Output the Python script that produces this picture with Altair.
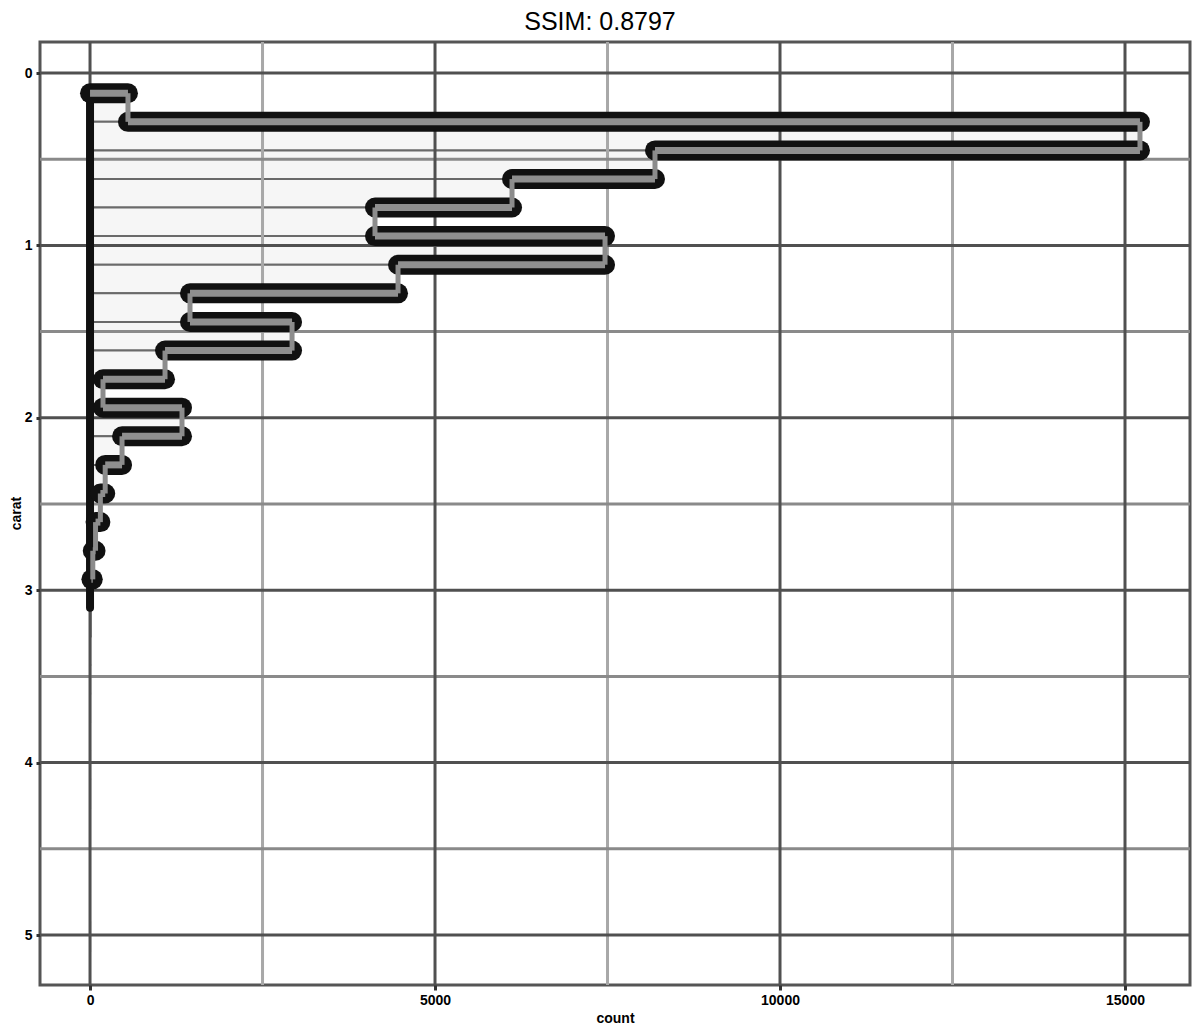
import altair as alt
import pandas as pd

title_text = "SSIM: 0.8797"
x_title = "count"
y_title = "carat"

bin_edges = [0.117, 0.283, 0.449, 0.615, 0.780, 0.946, 1.112, 1.278, 1.444, 1.610,
             1.776, 1.941, 2.107, 2.273, 2.439, 2.605, 2.771, 2.937, 3.102, 3.268,
             3.434, 3.600, 3.766, 3.932, 4.097, 4.263, 4.429, 4.595, 4.761, 4.927, 5.093]
counts = [550, 15217, 8188, 6116, 4130, 7464, 4464, 1449, 2928, 1087,
          188, 1333, 464, 220, 150, 80, 40, 20, 10, 3,
          2, 1, 0, 1, 1, 0, 0, 0, 0, 1]

x_ticks = [0, 5000, 10000, 15000]
x_minor = [2500, 7500, 12500]
y_ticks = [0, 1, 2, 3, 4, 5]
y_minor = [0.5, 1.5, 2.5, 3.5, 4.5]

n = len(counts)
bars = pd.DataFrame({"y": bin_edges[:-1], "y2": bin_edges[1:], "x": [0] * n, "x2": counts})

h_rows = []
for i, e in enumerate(bin_edges):
    a = counts[i - 1] if i > 0 else 0
    b = counts[i] if i < n else 0
    if max(a, b) >= 40:
        h_rows.append({"y": e, "x": min(a, b), "x2": max(a, b)})
hdf = pd.DataFrame(h_rows)
vdf = pd.DataFrame([{"x": c, "y": s, "y2": t}
                    for c, s, t in zip(counts, bin_edges[:-1], bin_edges[1:]) if c >= 40])
tail_end = max(e for i, e in enumerate(bin_edges[1:]) if counts[i] >= 20)
edge_df = pd.DataFrame([{"x": 0, "y": bin_edges[0], "y2": tail_end}])
xg_major = pd.DataFrame({"x": x_ticks})
xg_minor = pd.DataFrame({"x": x_minor})
yg_major = pd.DataFrame({"y": y_ticks})
yg_minor = pd.DataFrame({"y": y_minor})

xs = alt.Scale(domain=[-725, 15942], nice=False, zero=False)
ys = alt.Scale(domain=[-0.18, 5.29], reverse=True, nice=False, zero=False)

base_font = "Liberation Sans"

x_axis = alt.Axis(values=x_ticks, format="d", grid=False, domain=False,
                  labelFontSize=14, labelFontWeight="bold", labelColor="#000",
                  tickColor="#333", tickWidth=3, tickSize=5, labelPadding=3,
                  titleFontSize=14, titleFontWeight="bold", titleColor="#000",
                  titlePadding=4, labelFont=base_font, titleFont=base_font)
y_axis = alt.Axis(values=y_ticks, format="d", grid=False, domain=False,
                  labelFontSize=14, labelFontWeight="bold", labelColor="#000",
                  tickColor="#333", tickWidth=3, tickSize=4, labelPadding=4,
                  titleFontSize=14, titleFontWeight="bold", titleColor="#000",
                  titleX=-24, titleY=471, titleAngle=270, titleAlign="center",
                  titleBaseline="middle", labelFont=base_font, titleFont=base_font)


def X():
    return alt.X("x:Q", scale=xs, title=x_title, axis=x_axis)


def Y():
    return alt.Y("y:Q", scale=ys, title=y_title, axis=y_axis)


bar_layer = alt.Chart(bars).mark_rect(fill="#f6f6f6", stroke="#6a6a6a", strokeWidth=2).encode(
    x=X(), x2="x2:Q", y=Y(), y2="y2:Q")

gx_minor = alt.Chart(xg_minor).mark_rule(color="#a8a8a8", strokeWidth=3).encode(x=X())
gx_major = alt.Chart(xg_major).mark_rule(color="#505050", strokeWidth=3).encode(x=X())
gy_minor = alt.Chart(yg_minor).mark_rule(color="#8a8a8a", strokeWidth=3).encode(y=Y())
gy_major = alt.Chart(yg_major).mark_rule(color="#505050", strokeWidth=3).encode(y=Y())

left_edge = alt.Chart(edge_df).mark_rule(color="#111", strokeWidth=8, strokeCap="round").encode(
    x=X(), y=Y(), y2="y2:Q")
h_black = alt.Chart(hdf).mark_rule(color="#111", strokeWidth=20, strokeCap="round").encode(
    x=X(), x2="x2:Q", y=Y())
v_grey = alt.Chart(vdf).mark_rule(color="#8c8c8c", strokeWidth=5).encode(
    x=X(), y=Y(), y2="y2:Q")
h_grey = alt.Chart(hdf).mark_rule(color="#8f8f8f", strokeWidth=7, strokeCap="butt").encode(
    x=X(), x2="x2:Q", y=Y())

chart = alt.layer(
    bar_layer, gx_minor, gy_minor, gx_major, gy_major, left_edge, h_black, v_grey, h_grey
).properties(
    width=1150, height=943,
    autosize=alt.AutoSizeParams(type="none"),
    padding={"left": 32, "top": 34, "right": 2, "bottom": 41},
    title=alt.TitleParams(title_text, fontSize=25, font=base_font, fontWeight="normal",
                          color="#000", anchor="middle", dx=-15, offset=6),
).configure_view(stroke="#555555", strokeWidth=3, fill="#ffffff")

chart.save("out.html", embed_options={"renderer": "svg", "actions": False})
